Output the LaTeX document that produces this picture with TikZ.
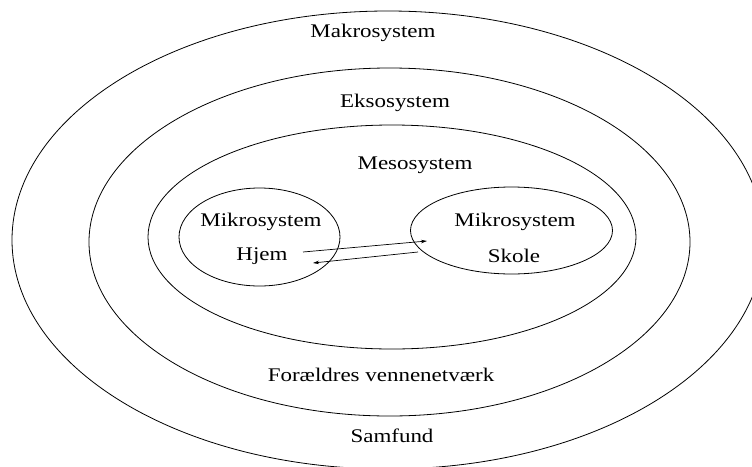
\documentclass[tikz,border=0pt]{standalone}
\usepackage{fontspec}
\setmainfont{Liberation Serif}
\usepackage{graphicx}
\usetikzlibrary{arrows.meta}
\newcommand{\wide}[1]{\scalebox{1.19}[1]{#1}}
\tikzset{
  ring/.style={draw, line width=0.8pt},
  lbl/.style={font=\fontsize{19.3}{23}\selectfont, inner sep=0pt, anchor=center},
  link/.style={line width=0.7pt, -{Stealth[length=6pt,width=3.5pt]}}
}
\begin{document}
\begin{tikzpicture}[x=1pt,y=-1pt]
  \useasboundingbox (0,0) rectangle (752,466);
  \clip (0,0) rectangle (752,466);
  % nested system rings
  \draw[ring] (388,240) ellipse [x radius=376, y radius=229];
  \draw[ring] (389.5,242) ellipse [x radius=300.5, y radius=174];
  \draw[ring] (392,237) ellipse [x radius=244, y radius=112];
  \draw[ring] (259.5,237) ellipse [x radius=80.5, y radius=49];
  \draw[ring] (511.5,230.5) ellipse [x radius=101, y radius=43.5];
  % labels
  \node[lbl] (makro) at (373,33) {\wide{Makrosystem}};
  \node[lbl] (ekso) at (395,103) {\wide{Eksosystem}};
  \node[lbl] (meso) at (415,165) {\wide{Mesosystem}};
  \node[lbl] (mikroA) at (261,222) {\wide{Mikrosystem}};
  \node[lbl] (hjem) at (262,256) {\wide{Hjem}};
  \node[lbl] (mikroB) at (515,222) {\wide{Mikrosystem}};
  \node[lbl] (skole) at (514,256) {\wide{Skole}};
  \node[lbl] (venner) at (381,375) {\wide{Forældres vennenetværk}};
  \node[lbl] (samfund) at (392,436) {\wide{Samfund}};
  % exchange between home and school
  \coordinate (h1) at (303,252);
  \coordinate (s1) at (427,241);
  \coordinate (s2) at (418,252);
  \coordinate (h2) at (313,263);
  \draw[link] (h1) -- (s1);
  \draw[link] (s2) -- (h2);
\end{tikzpicture}
\end{document}
